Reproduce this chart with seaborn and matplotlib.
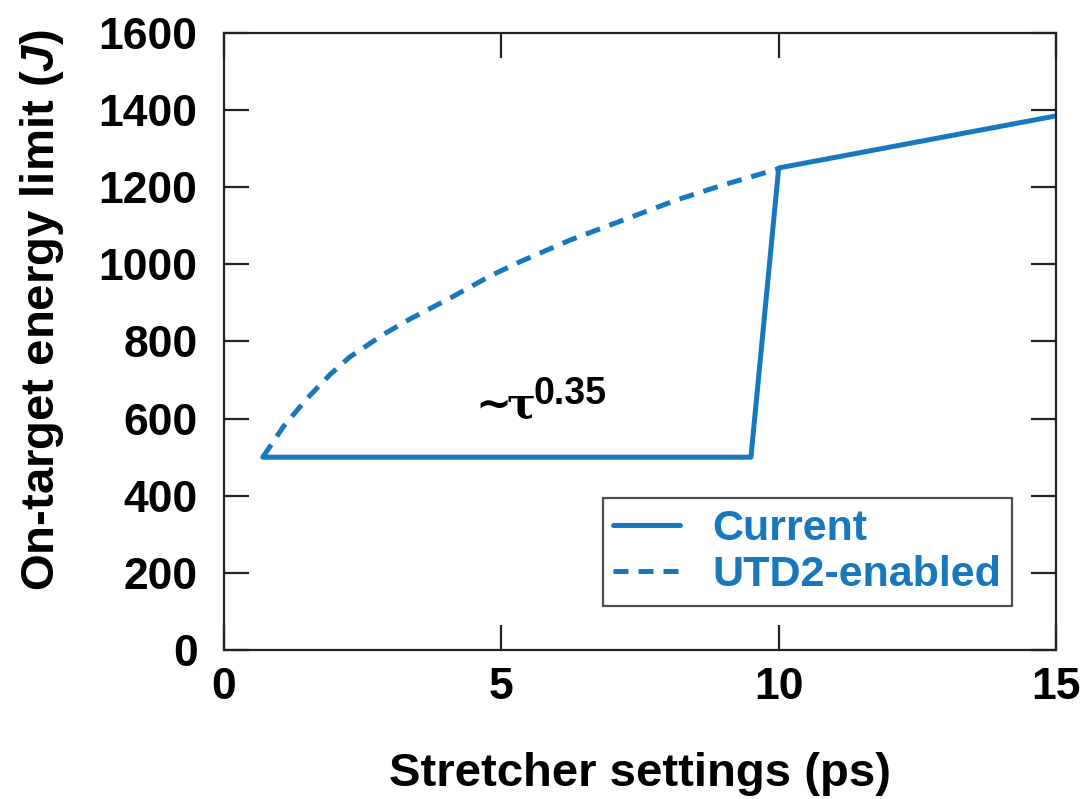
import matplotlib
matplotlib.use("Agg")
import matplotlib.pyplot as plt
import seaborn as sns
import pandas as pd

# Data
current_x = [0.7, 9.5, 10.0, 15.0]
current_y = [500, 500, 1250, 1385]
utd2_x = [0.7, 1.07, 1.49, 1.91, 2.27, 2.87, 3.35, 4.07, 4.80, 5.34, 6.24, 7.20, 8.16, 9.00, 10.0]
utd2_y = [500, 579, 651, 714, 760, 818, 858, 912, 970, 1007, 1063, 1115, 1167, 1206, 1248]
series_names = ["Current", "UTD2-enabled"]
xticks = [0, 5, 10, 15]
yticks = [0, 200, 400, 600, 800, 1000, 1200, 1400, 1600]

sns.set_theme(style="ticks")
plt.rcParams['font.family'] = ['Liberation Sans', 'DejaVu Sans']
plt.rcParams['font.weight'] = 'bold'
plt.rcParams['text.color'] = 'black'
plt.rcParams['axes.labelcolor'] = 'black'
plt.rcParams['mathtext.fontset'] = 'custom'
plt.rcParams['mathtext.rm'] = 'DejaVu Sans'
plt.rcParams['mathtext.bf'] = 'DejaVu Serif:bold'
plt.rcParams['mathtext.sf'] = 'Liberation Sans:bold'
plt.rcParams['mathtext.bfit'] = 'Liberation Sans:italic:bold'
plt.rcParams['mathtext.it'] = 'Liberation Sans:italic:bold'

color = "#1878be"
df = pd.concat([
    pd.DataFrame({"x": current_x, "y": current_y, "s": series_names[0]}),
    pd.DataFrame({"x": utd2_x, "y": utd2_y, "s": series_names[1]}),
])

fig = plt.figure(figsize=(10.82, 7.99), dpi=100)
ax = fig.add_axes([0.207, 0.1865, 0.769, 0.7722])
sns.lineplot(data=df, x="x", y="y", hue="s", style="s",
             palette=[color, color], dashes=["", (3, 2)],
             linewidth=3.6, sort=False, estimator=None, ax=ax)

ax.set_xlim(0, 15)
ax.set_ylim(0, 1600)
ax.set_xticks(xticks)
ax.set_yticks(yticks)
ax.tick_params(direction="in", length=18, width=1.6, top=True, right=True,
               labelsize=32, colors="#222222", labelcolor="black")
ax.tick_params(axis="x", pad=12)
ax.tick_params(axis="y", pad=19)
for lab in ax.get_xticklabels() + ax.get_yticklabels():
    lab.set_fontweight("bold")
for sp in ax.spines.values():
    sp.set_linewidth(1.6)
    sp.set_color("#222222")

ax.set_xlabel("Stretcher settings (ps)", fontsize=34, fontweight="bold", color="black")
ax.set_ylabel("On-target energy limit ($\\mathit{J}$)", fontsize=34, fontweight="bold", color="black")
ax.xaxis.set_label_coords(0.5, -0.165)
ax.yaxis.set_label_coords(-0.19, 0.551)

leg = ax.legend(loc="lower right", bbox_to_anchor=(0.947, 0.0713), fontsize=31,
                frameon=True, fancybox=False, edgecolor="#222222",
                handlelength=1.55, handletextpad=0.75, borderpad=0.25, labelspacing=0.15,
                borderaxespad=0)
leg.get_frame().set_linewidth(1.6)
for t in leg.get_texts():
    t.set_color(color)
    t.set_fontweight("bold")

ax.text(4.40, 602, r"$\sim\!\!\mathbf{\tau}$", fontsize=31, ha="left", va="baseline")
ax.text(5.58, 638, "0.35", fontsize=27, fontweight="bold", ha="left", va="baseline")

fig.savefig("out.png", dpi=100)
